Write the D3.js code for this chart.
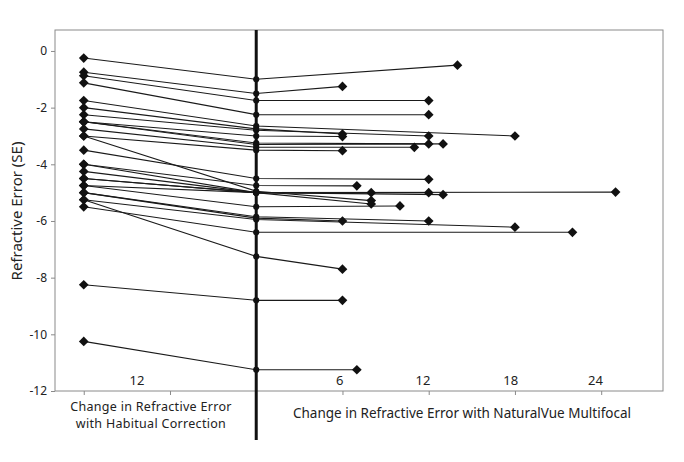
<!DOCTYPE html>
<html><head><meta charset="utf-8">
<script src="https://cdn.jsdelivr.net/npm/d3@7"></script>
<style>body{margin:0;background:#fff}svg{display:block}text{font-family:"Segoe UI","Noto Sans",sans-serif;fill:#222}</style>
</head><body>
<svg id="c" width="684" height="462"></svg>
<script>
// refractive error (SE) 12 months before (habitual correction)
const habitual = [-0.25,-0.75,-0.875,-1.125,-1.75,-2.0,-2.25,-2.5,-2.5,-2.5,-2.75,-3.0,-3.5,-4.0,-4.0,-4.25,-4.5,-4.5,-3.0,-4.75,-4.75,-5.0,-5.0,-5.25,-5.5,-5.25,-8.25,-10.25];
// at baseline (start of NaturalVue)
const baseline = [-1.0,-1.5,-1.75,-2.25,-2.65,-2.75,-2.8,-3.0,-3.25,-3.3,-3.4,-3.5,-4.5,-4.75,-5.0,-5.0,-5.0,-5.0,-4.95,-5.0,-5.5,-5.9,-5.85,-5.95,-6.4,-7.25,-8.8,-11.25];
// last visit: months of NaturalVue wear and SE
const lastMonth = [14,6,12,12,18,6,12,6,12,13,11,6,12,7,8,12,13,25,8,8,10,6,12,18,22,6,6,7];
const lastValue = [-0.5,-1.25,-1.75,-2.25,-3.0,-2.93,-3.0,-3.02,-3.28,-3.28,-3.4,-3.52,-4.53,-4.76,-5.0,-5.0,-5.07,-4.98,-5.28,-5.4,-5.47,-6.0,-6.0,-6.22,-6.4,-7.7,-8.8,-11.25];
const habitualMonth = -12;
const yTicks = [0,-2,-4,-6,-8,-10,-12];
const xTicks = [-12,-6,6,12,18,24];
const xTickLabels = [{t:"12",m:-8.3},{t:"6",m:5.8},{t:"12",m:11.6},{t:"18",m:17.7},{t:"24",m:23.6}];

const svg = d3.select("#c");
const L=55,R=663,T=30,B=391;
const x = d3.scaleLinear().domain([-14,28.3]).range([L,R]);
const y = d3.scaleLinear().domain([-12,0.74]).range([B,T]);

// frame
svg.append("rect").attr("x",L).attr("y",T).attr("width",R-L).attr("height",B-T)
  .attr("fill","none").attr("stroke","#8a8a8a").attr("stroke-width",1);

// y axis
const ya = svg.append("g").attr("transform",`translate(${L},0)`)
  .call(d3.axisLeft(y).tickValues(yTicks).tickSize(4).tickPadding(4).tickFormat(d=>d===0?"0":"-"+Math.abs(d)));
ya.select(".domain").remove();
ya.selectAll("line").attr("stroke","#8a8a8a");
ya.selectAll("text").style("font-size","12px").attr("fill","#222");

// x axis ticks
const xa = svg.append("g").attr("transform",`translate(0,${B})`)
  .call(d3.axisBottom(x).tickValues(xTicks).tickSize(4).tickFormat(""));
xa.select(".domain").remove();
xa.selectAll("line").attr("stroke","#8a8a8a");

svg.selectAll("text.xl").data(xTickLabels).join("text").attr("class","xl")
  .attr("x",d=>x(d.m)).attr("y",B-6).attr("text-anchor","middle").style("font-size","13px").text(d=>d.t);

// lines
const ln = d3.line().x(d=>x(d[0])).y(d=>y(d[1]));
const subj = habitual.map((h,i)=>[[habitualMonth,h],[0,baseline[i]],[lastMonth[i],lastValue[i]]]);
svg.append("g").selectAll("path").data(subj).join("path")
  .attr("d",ln).attr("fill","none").attr("stroke","#1a1a1a").attr("stroke-width",1.1);

// thick baseline line
svg.append("line").attr("x1",x(0)).attr("x2",x(0)).attr("y1",T).attr("y2",440)
  .attr("stroke","#111").attr("stroke-width",3);

const diamond = d3.symbol().type(d3.symbolDiamond2);
const g = svg.append("g").attr("fill","#111");
g.selectAll("path.l").data(subj).join("path").attr("class","l")
  .attr("d",diamond.size(60)()).attr("transform",d=>`translate(${x(d[0][0])},${y(d[0][1])})`);
g.selectAll("path.m").data(subj).join("path").attr("class","m")
  .attr("d",d3.symbol().type(d3.symbolCircle).size(30)()).attr("transform",d=>`translate(${x(d[1][0])},${y(d[1][1])})`);
g.selectAll("path.r").data(subj).join("path").attr("class","r")
  .attr("d",diamond.size(60)()).attr("transform",d=>`translate(${x(d[2][0])},${y(d[2][1])})`);

// axis titles
svg.append("text").attr("transform","translate(22,211) rotate(-90)").attr("text-anchor","middle")
  .style("font-size","15px").text("Refractive Error (SE)");
svg.append("text").attr("x",151).attr("y",411).attr("text-anchor","middle")
  .style("font-size","12.5px").style("letter-spacing","0.3px").text("Change in Refractive Error");
svg.append("text").attr("x",151).attr("y",428).attr("text-anchor","middle")
  .style("font-size","12.5px").style("letter-spacing","0.3px").text("with Habitual Correction");
svg.append("text").attr("x",462).attr("y",418).attr("text-anchor","middle").style("font-size","13.5px")
  .text("Change in Refractive Error with NaturalVue Multifocal");
</script>
</body></html>
